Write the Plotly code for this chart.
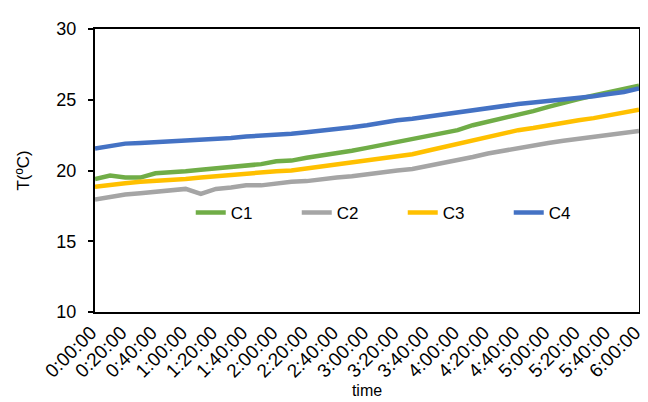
import plotly.graph_objects as go

times = [f"{m // 60}:{m % 60:02d}:00" for m in range(0, 361, 10)]
tick_labels = [f"{m // 60}:{m % 60:02d}:00" for m in range(0, 361, 20)]

c1 = [19.4, 19.65, 19.5, 19.5, 19.8, 19.85, 19.95, 20.05, 20.15, 20.25, 20.35, 20.45,
      20.65, 20.7, 20.9, 21.05, 21.2, 21.4, 21.6, 21.8, 22.0, 22.2, 22.4, 22.65, 22.85,
      23.2, 23.45, 23.7, 23.9, 24.2, 24.5, 24.8, 25.05, 25.3, 25.55, 25.8, 26.0]
c2 = [17.95, 18.15, 18.3, 18.4, 18.5, 18.6, 18.7, 18.35, 18.7, 18.8, 18.95, 18.95,
      19.1, 19.2, 19.25, 19.4, 19.5, 19.6, 19.75, 19.85, 20.0, 20.1, 20.3, 20.5, 20.7,
      20.95, 21.2, 21.4, 21.6, 21.8, 21.95, 22.1, 22.25, 22.4, 22.55, 22.65, 22.8]
c3 = [18.85, 19.0, 19.1, 19.2, 19.25, 19.3, 19.4, 19.5, 19.6, 19.7, 19.8, 19.85,
      19.95, 20.0, 20.15, 20.3, 20.4, 20.55, 20.7, 20.85, 21.0, 21.15, 21.4, 21.65, 21.9,
      22.15, 22.4, 22.65, 22.85, 23.0, 23.2, 23.4, 23.55, 23.7, 23.9, 24.1, 24.3]
c4 = [21.55, 21.75, 21.9, 21.95, 22.0, 22.05, 22.15, 22.2, 22.25, 22.3, 22.4, 22.45,
      22.5, 22.6, 22.7, 22.8, 22.9, 23.05, 23.2, 23.4, 23.55, 23.65, 23.8, 23.95, 24.1,
      24.25, 24.45, 24.6, 24.7, 24.8, 24.9, 25.0, 25.1, 25.25, 25.4, 25.55, 25.8]

series = [("C1", c1, "#70AD47"), ("C2", c2, "#A5A5A5"), ("C3", c3, "#FFC000"), ("C4", c4, "#4472C4")]

FONT = "Liberation Sans, Arial, sans-serif"

fig = go.Figure()
for name, vals, color in series:
    fig.add_trace(go.Scatter(x=times, y=vals, name=name, mode="lines",
                             line=dict(color=color, width=4.5)))

fig.update_layout(
    width=648, height=402,
    margin=dict(l=87, r=11, t=17, b=98),
    paper_bgcolor="white", plot_bgcolor="white",
    font=dict(family=FONT, size=17, color="#000000"),
    showlegend=True,
    legend=dict(orientation="h", x=0.176, y=0.35, xanchor="left", yanchor="middle",
                bgcolor="rgba(0,0,0,0)", entrywidth=61, entrywidthmode="pixels",
                font=dict(family=FONT, size=17)),
)
fig.update_xaxes(
    type="category", range=[0, len(times) - 1],
    tickmode="array", tickvals=tick_labels, ticktext=tick_labels,
    tickangle=-45, ticks="", showgrid=False, zeroline=False,
    showline=True, linecolor="black", linewidth=2, mirror=True,
    ticklabelshift=-4,
    title=dict(text="time", font=dict(family=FONT, size=16), standoff=2),
    tickfont=dict(family=FONT, size=19),
)
fig.update_yaxes(
    range=[10, 30], tickvals=[10, 15, 20, 25, 30],
    ticks="outside", ticklen=5, tickcolor="black", tickwidth=1.5,
    showgrid=False, zeroline=False,
    showline=True, linecolor="black", linewidth=2, mirror=True,
    ticklabelstandoff=8,
    title=dict(text="T(ºC)", font=dict(family=FONT, size=17), standoff=22),
    tickfont=dict(family=FONT, size=18),
)

fig.write_html("out.html")
